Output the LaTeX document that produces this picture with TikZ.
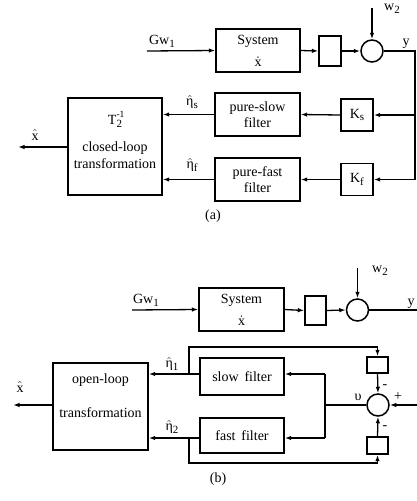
\documentclass[tikz,border=0pt]{standalone}
\usepackage{fontspec}
\usepackage{amsmath}
\setmainfont{Liberation Serif}
\usetikzlibrary{arrows.meta}
\newcommand{\lsub}[1]{\raisebox{-0.45ex}{\fontsize{11}{11}\selectfont #1}}
\newcommand{\hateta}{$\hat{\text{η}}$}
\begin{document}
\begin{tikzpicture}[x=1pt,y=-1pt,
  font=\fontsize{14}{16.5}\selectfont,
  box/.style={draw, line width=1.4pt, inner sep=0pt, align=center},
  sumc/.style={draw, circle, line width=1.5pt, minimum size=22pt, inner sep=0pt},
  arr/.style={-{Latex[length=6.5pt,width=4.5pt]}, line width=1.3pt},
  ln/.style={line width=1.3pt},
  lbl/.style={inner sep=0pt}]
\useasboundingbox (0,0) rectangle (417,501);

% ---------------- (a) ----------------
\node[box, minimum width=84pt, minimum height=43pt] (sysA) at (258,50.5) {};
\node[lbl] (sysAt) at (258,41.5) {System};
\node[lbl] (sysAx) at (258,62) {$\dot{\text{x}}$};
\node[box, minimum width=22pt, minimum height=30pt] (dlyA) at (330,51) {};
\node[sumc] (sumA) at (372,51) {};
\node[box, minimum width=32pt, minimum height=32pt] (KsA) at (357,115) {K\lsub{s}};
\node[box, minimum width=32pt, minimum height=32pt] (KfA) at (357,179.5) {K\lsub{f}};
\node[box, minimum width=85pt, minimum height=43pt] (psA) at (257.5,114.5) {pure-slow\\filter};
\node[box, minimum width=85pt, minimum height=43pt] (pfA) at (257.5,179.5) {pure-fast\\filter};
\node[box, minimum width=94pt, minimum height=97pt] (TA) at (115,146.5) {};
\node[lbl] (TAt) at (115,119) {T\rlap{\raisebox{1.1ex}{\fontsize{9.5}{9.5}\selectfont -1}}\lsub{2}};
\node[lbl, align=center] (TAc) at (115,155) {closed-loop\\transformation};

\coordinate (inA) at (147,51);
\coordinate (w2A) at (372,8);
\coordinate (yA) at (415,51);
\coordinate (ysA) at (415,115);
\coordinate (yfA) at (415,179.5);
\coordinate (outA) at (18,147);

\draw[arr] (inA) -- (sysA.west);
\draw[arr] (sysA.east) -- (dlyA.west);
\draw[arr] (dlyA.east) -- (sumA.west);
\draw[arr] (w2A) -- (sumA.north);
\draw[ln] (sumA.east) -- (yA) -- (yfA);
\draw[arr] (ysA) -- (KsA.east);
\draw[arr] (yfA) -- (KfA.east);
\draw[arr] (KsA.west) -- (psA.east);
\draw[arr] (KfA.west) -- (pfA.east);
\draw[arr] (psA.west) -- (psA.west -| TA.east);
\draw[arr] (pfA.west) -- (pfA.west -| TA.east);
\draw[arr] (TA.west |- outA) -- (outA);

\node[lbl] (GwA) at (162,41) {Gw\lsub{1}};
\node[lbl] (w2Al) at (392,9) {w\lsub{2}};
\node[lbl] (yAl) at (406,44) {y};
\node[lbl] (esA) at (192,102) {\hateta\lsub{s}};
\node[lbl] (efA) at (192,165) {\hateta\lsub{f}};
\node[lbl] (xA) at (35,135) {$\hat{\text{x}}$};
\node[lbl] (capA) at (213,216) {(a)};

% ---------------- (b) ----------------
\node[box, minimum width=85pt, minimum height=43pt] (sysB) at (241.5,309.5) {};
\node[lbl] (sysBt) at (241.5,300.5) {System};
\node[lbl] (sysBx) at (241.5,321) {$\dot{\text{x}}$};
\node[box, minimum width=21pt, minimum height=29pt] (dlyB) at (315.5,310.5) {};
\node[sumc] (sumB) at (357.5,310) {};
\node[box, minimum width=84pt, minimum height=37pt] (slB) at (242,376.5) {slow\, filter};
\node[box, minimum width=84pt, minimum height=35pt] (faB) at (242,435.5) {fast\, filter};
\node[box, minimum width=95pt, minimum height=87pt] (olB) at (100.5,406.5) {};
\node[lbl] (olBa) at (100.5,380) {open-loop};
\node[lbl] (olBb) at (100.5,413) {transformation};
\node[box, minimum width=21pt, minimum height=16pt] (ubB) at (377.5,365) {};
\node[box, minimum width=21pt, minimum height=17pt] (lbB) at (377.5,445.5) {};
\node[sumc] (sum2B) at (378,405) {};

\coordinate (inB) at (132,310);
\coordinate (w2B) at (357.5,268);
\coordinate (yB) at (417,310);
\coordinate (outB) at (13,405);
\coordinate (t1) at (189,374);
\coordinate (t1u) at (189,347);
\coordinate (t1r) at (377.5,347);
\coordinate (t2) at (189,438);
\coordinate (t2d) at (189,463);
\coordinate (t2r) at (377.5,463);
\coordinate (plB) at (417,405);
\coordinate (vB) at (325,405);
\coordinate (vs) at (325,374);
\coordinate (vf) at (325,438);

\draw[arr] (inB) -- (sysB.west);
\draw[arr] (sysB.east) -- (dlyB.west);
\draw[arr] (dlyB.east) -- (sumB.west);
\draw[arr] (w2B) -- (sumB.north);
\draw[ln] (sumB.east) -- (yB);

\draw[arr] (vs -| slB.west) -- (vs -| olB.east);
\draw[arr] (vf -| faB.west) -- (vf -| olB.east);
\draw[arr] (olB.west |- outB) -- (outB);
\draw[arr] (t1) -- (t1u) -- (t1r) -- (ubB.north);
\draw[arr] (t2) -- (t2d) -- (t2r) -- (lbB.south);
\draw[arr] (ubB.south) -- (sum2B.north);
\draw[arr] (lbB.north) -- (sum2B.south);
\draw[arr] (plB) -- (sum2B.east);
\draw[ln] (sum2B.west) -- (vB);
\draw[ln] (vs) -- (vf);
\draw[arr] (vs) -- (vs -| slB.east);
\draw[arr] (vf) -- (vf -| faB.east);

\node[lbl] (GwB) at (146,300) {Gw\lsub{1}};
\node[lbl] (w2Bl) at (380,271) {w\lsub{2}};
\node[lbl] (yBl) at (411,304) {y};
\node[lbl] (e1B) at (172,364) {\hateta\lsub{1}};
\node[lbl] (e2B) at (172,427) {\hateta\lsub{2}};
\node[lbl] (xB) at (20,387) {$\hat{\text{x}}$};
\node[lbl] (m1B) at (385,387) {-};
\node[lbl] (m2B) at (385,428) {-};
\node[lbl] (pB) at (398,397) {+};
\node[lbl] (uB) at (358,397) {υ};
\node[lbl] (capB) at (218,479) {(b)};
\end{tikzpicture}
\end{document}
